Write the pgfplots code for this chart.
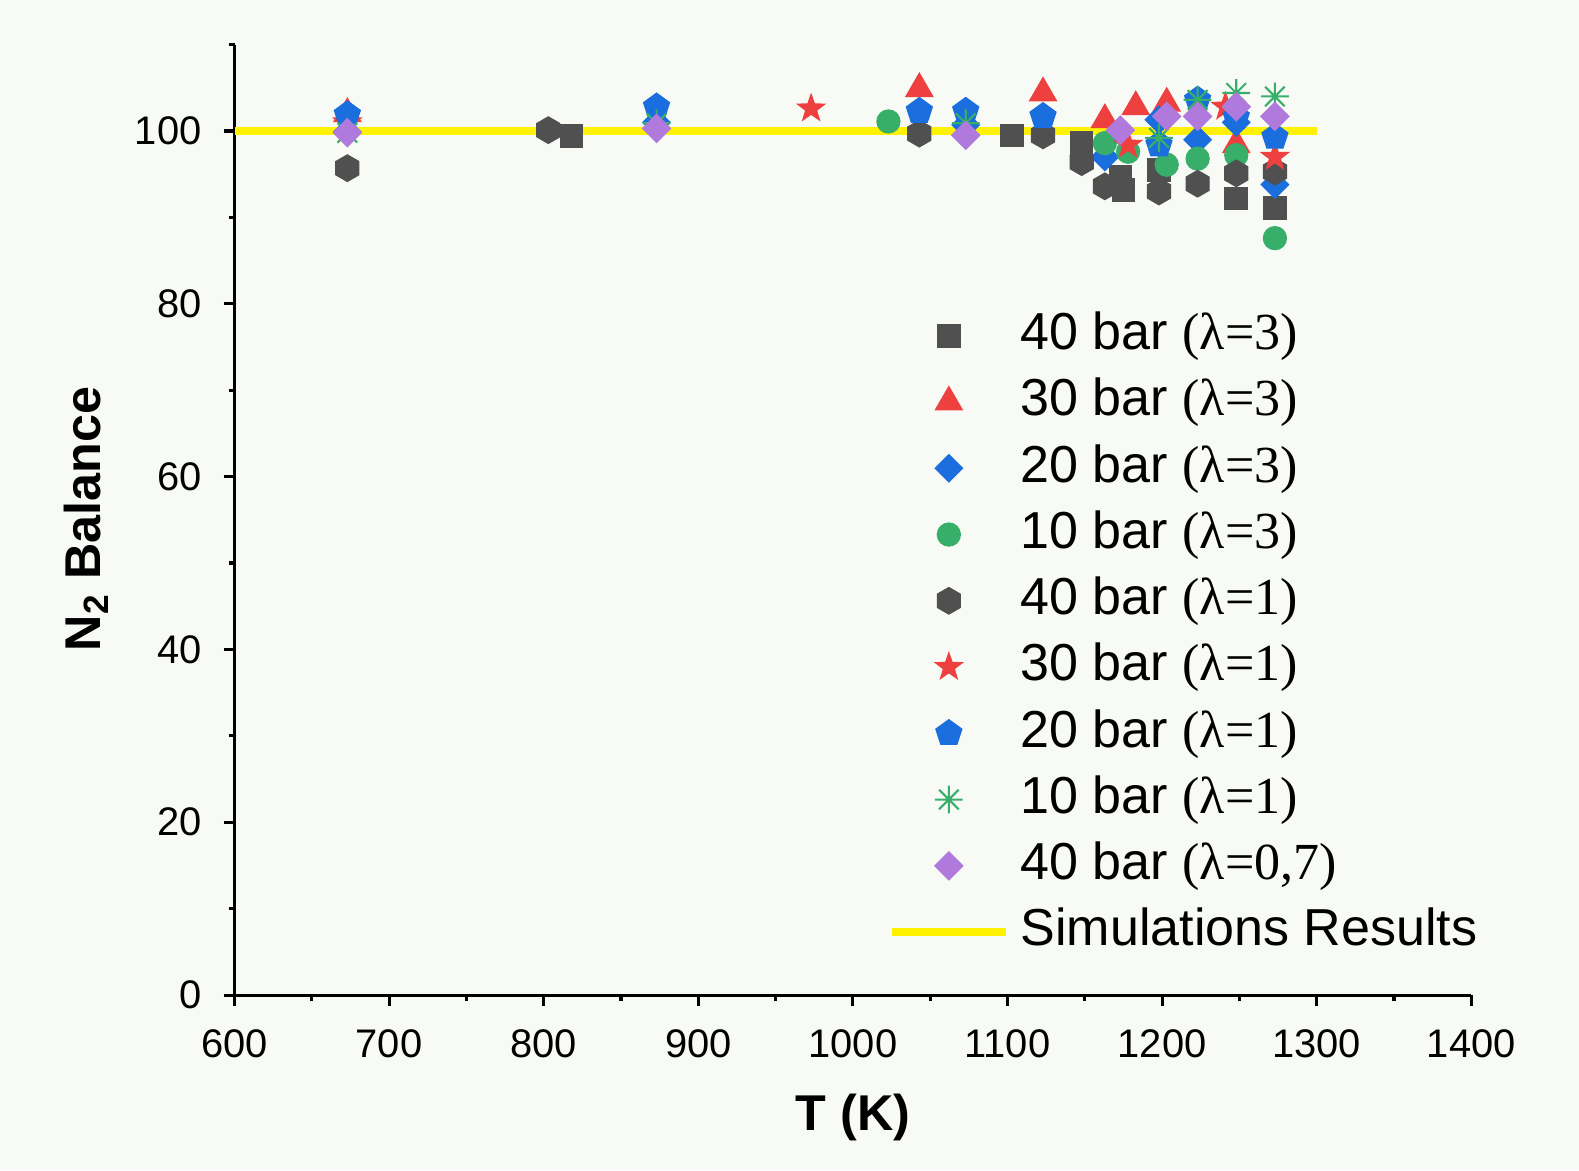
\documentclass[border=0pt]{standalone}
\usepackage{pgfplots}
\pgfplotsset{compat=1.18}
\usepackage{fontspec}
\setmainfont{Liberation Sans}
\newfontfamily\tms{Liberation Serif}
\usetikzlibrary{backgrounds}

\definecolor{bgc}{HTML}{F8FAF5}
\definecolor{dgray}{HTML}{505050}
\definecolor{mred}{HTML}{EF4040}
\definecolor{mblue}{HTML}{1B6EDD}
\definecolor{mgreen}{HTML}{37AE6A}
\definecolor{mpurple}{HTML}{B07ADD}

% extra marks
\pgfdeclareplotmark{hexagon*}{%
  \pgfpathmoveto{\pgfpointpolar{90}{\pgfplotmarksize}}%
  \pgfpathlineto{\pgfpointpolar{150}{\pgfplotmarksize}}%
  \pgfpathlineto{\pgfpointpolar{210}{\pgfplotmarksize}}%
  \pgfpathlineto{\pgfpointpolar{270}{\pgfplotmarksize}}%
  \pgfpathlineto{\pgfpointpolar{330}{\pgfplotmarksize}}%
  \pgfpathlineto{\pgfpointpolar{30}{\pgfplotmarksize}}%
  \pgfpathclose\pgfusepathqfillstroke}
\pgfdeclareplotmark{fstar}{%
  \pgfpathmoveto{\pgfpointpolar{90}{\pgfplotmarksize}}%
  \pgfpathlineto{\pgfpointpolar{126}{0.4\pgfplotmarksize}}%
  \pgfpathlineto{\pgfpointpolar{162}{\pgfplotmarksize}}%
  \pgfpathlineto{\pgfpointpolar{198}{0.4\pgfplotmarksize}}%
  \pgfpathlineto{\pgfpointpolar{234}{\pgfplotmarksize}}%
  \pgfpathlineto{\pgfpointpolar{270}{0.4\pgfplotmarksize}}%
  \pgfpathlineto{\pgfpointpolar{306}{\pgfplotmarksize}}%
  \pgfpathlineto{\pgfpointpolar{342}{0.4\pgfplotmarksize}}%
  \pgfpathlineto{\pgfpointpolar{18}{\pgfplotmarksize}}%
  \pgfpathlineto{\pgfpointpolar{54}{0.4\pgfplotmarksize}}%
  \pgfpathclose\pgfusepathqfillstroke}
\pgfdeclareplotmark{ast8}{%
  \pgfpathmoveto{\pgfpoint{-\pgfplotmarksize}{0pt}}\pgfpathlineto{\pgfpoint{\pgfplotmarksize}{0pt}}%
  \pgfpathmoveto{\pgfpoint{0pt}{-\pgfplotmarksize}}\pgfpathlineto{\pgfpoint{0pt}{\pgfplotmarksize}}%
  \pgfpathmoveto{\pgfpointpolar{45}{\pgfplotmarksize}}\pgfpathlineto{\pgfpointpolar{225}{\pgfplotmarksize}}%
  \pgfpathmoveto{\pgfpointpolar{135}{\pgfplotmarksize}}\pgfpathlineto{\pgfpointpolar{315}{\pgfplotmarksize}}%
  \pgfusepathqstroke}
\pgfdeclareplotmark{sqdiamond*}{%
  \pgfpathmoveto{\pgfpoint{0pt}{\pgfplotmarksize}}%
  \pgfpathlineto{\pgfpoint{\pgfplotmarksize}{0pt}}%
  \pgfpathlineto{\pgfpoint{0pt}{-\pgfplotmarksize}}%
  \pgfpathlineto{\pgfpoint{-\pgfplotmarksize}{0pt}}%
  \pgfpathclose\pgfusepathqfillstroke}

\begin{document}
\begin{tikzpicture}
\begin{axis}[
  scale only axis,
  width=12.531cm, height=9.630cm,
  xmin=600, xmax=1400, ymin=0, ymax=110,
  axis lines=left,
  axis line style={-, line width=0.9pt, black},
  tick style={line width=0.9pt, black},
  tick align=outside,
  major tick length=0.11cm, minor tick length=0.06cm,
  xtick={600,700,...,1400}, ytick={0,20,...,100},
  minor xtick={650,750,...,1350}, minor ytick={10,30,...,110},
  scaled ticks=false,
  /pgf/number format/1000 sep={},
  /pgf/number format/assume math mode=true,
  tick label style={font=\fontsize{11.5}{13}\selectfont},
  xticklabel style={yshift=-0.12cm},
  yticklabel style={xshift=-0.1cm},
  xlabel={\bfseries T (K)},
  ylabel={\bfseries N\textsubscript{2} Balance},
  label style={font=\fontsize{14.5}{17}\selectfont},
  xlabel style={at={(axis description cs:0.5,-0.129)}, anchor=center},
  ylabel style={at={(axis description cs:-0.120,0.501)}, anchor=center, rotate=0},
  legend style={at={(rel axis cs:0.5284,0.7285)}, anchor=north west,
    draw=none, fill=none, inner sep=0pt, outer sep=0pt,
    font=\fontsize{15}{18}\selectfont,
    nodes={inner sep=0pt, text height=13.55pt, text depth=5.55pt},
    /tikz/every odd column/.append style={column sep=0.11cm}},
  legend cell align=left,
  legend image code/.code={\draw[#1] plot coordinates {(0.578cm,0cm)};},
]
\coordinate (O) at (rel axis cs:0,0);
\coordinate (T) at (rel axis cs:1,1);

\addplot[only marks, mark=square*, mark size=3.2pt, color=dgray] coordinates {
  (818,99.4) (1103,99.5) (1148,98.6) (1173,94.7) (1175,93.2)
  (1198,95.5) (1248,92.2) (1273,91.1)};
\addlegendentry{40 bar {\tms(λ=3)}}

\addplot[only marks, mark=triangle*, mark size=4.4pt, color=mred] coordinates {
  (673,102.0) (1043,104.9) (1123,104.4) (1163,101.3) (1183,102.8)
  (1203,103.2) (1248,98.4)};
\addlegendentry{30 bar {\tms(λ=3)}}

\addplot[only marks, mark=sqdiamond*, mark size=3.9pt, color=mblue] coordinates {
  (673,99.9) (873,101.0) (1073,100.7) (1163,97.0) (1198,101.3)
  (1223,99.0) (1248,101.0) (1273,93.8)};
\addlegendentry{20 bar {\tms(λ=3)}}

\addplot[only marks, mark=*, mark size=3.3pt, color=mgreen] coordinates {
  (1023,101.1) (1163,98.6) (1178,97.6) (1203,96.1) (1223,96.8)
  (1248,97.2) (1273,87.6)};
\addlegendentry{10 bar {\tms(λ=3)}}

\addplot[only marks, mark=hexagon*, mark size=3.8pt, color=dgray] coordinates {
  (673,95.7) (803,100.1) (1043,99.7) (1123,99.5) (1148,96.4)
  (1163,93.6) (1198,93.0) (1223,93.9) (1248,95.1) (1273,95.3)};
\addlegendentry{40 bar {\tms(λ=1)}}

\addplot[only marks, mark=fstar, mark size=4.0pt, color=mred] coordinates {
  (673,101.0) (973,102.6) (1178,98.4) (1241,102.8) (1273,97.0)};
\addlegendentry{30 bar {\tms(λ=1)}}

\addplot[only marks, mark=pentagon*, mark size=3.9pt, color=mblue] coordinates {
  (673,101.9) (873,102.8) (1043,102.3) (1073,102.3) (1123,101.7)
  (1198,98.4) (1223,103.6) (1248,101.6) (1273,99.3)};
\addlegendentry{20 bar {\tms(λ=1)}}

\addplot[only marks, mark=ast8, mark size=4.0pt, color=mgreen, mark options={line width=0.6pt}] coordinates {
  (673,99.8) (873,100.9) (1073,100.9) (1198,99.2) (1223,103.6)
  (1248,104.4) (1273,104.0)};
\addlegendentry{10 bar {\tms(λ=1)}}

\addplot[only marks, mark=sqdiamond*, mark size=4.0pt, color=mpurple] coordinates {
  (673,99.8) (873,100.3) (1073,99.5) (1173,100.1) (1203,101.7)
  (1223,101.7) (1248,102.8) (1273,101.7)};
\addlegendentry{40 bar {\tms(λ=0,7)}}

\addplot[no marks, color=yellow, line width=2.4pt,
  legend image code/.code={\draw[yellow, line width=2.2pt] (0cm,0cm) -- (1.156cm,0cm);}] coordinates {
  (600,100) (1300,100)};
\addlegendentry{Simulations Results}
\end{axis}
\begin{scope}[on background layer]
\fill[bgc] ([shift={(-2.376cm,-1.773cm)}]O) rectangle ([shift={(1.092cm,0.452cm)}]T);
\end{scope}
\pgfresetboundingbox
\path[use as bounding box] ([shift={(-2.376cm,-1.773cm)}]O) rectangle ([shift={(1.092cm,0.452cm)}]T);
\end{tikzpicture}
\end{document}
